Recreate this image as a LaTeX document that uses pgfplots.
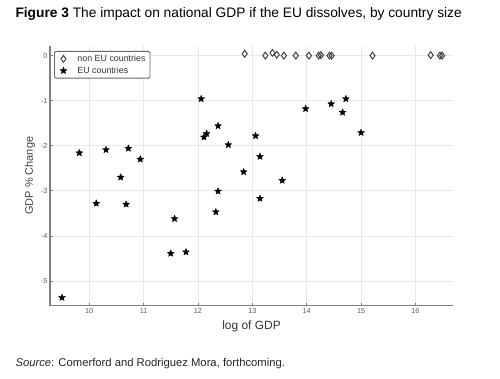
\documentclass[border=0pt]{standalone}
\usepackage{pgfplots}
\pgfplotsset{compat=1.18}
\usepackage{fontspec}
\setmainfont{Liberation Sans}
\pgfdeclareplotmark{fstar}{%
  \pgfpathmoveto{\pgfpointpolar{90}{\pgfplotmarksize}}%
  \pgfpathlineto{\pgfpointpolar{126}{0.45\pgfplotmarksize}}%
  \pgfpathlineto{\pgfpointpolar{162}{\pgfplotmarksize}}%
  \pgfpathlineto{\pgfpointpolar{198}{0.45\pgfplotmarksize}}%
  \pgfpathlineto{\pgfpointpolar{234}{\pgfplotmarksize}}%
  \pgfpathlineto{\pgfpointpolar{270}{0.45\pgfplotmarksize}}%
  \pgfpathlineto{\pgfpointpolar{306}{\pgfplotmarksize}}%
  \pgfpathlineto{\pgfpointpolar{342}{0.45\pgfplotmarksize}}%
  \pgfpathlineto{\pgfpointpolar{18}{\pgfplotmarksize}}%
  \pgfpathlineto{\pgfpointpolar{54}{0.45\pgfplotmarksize}}%
  \pgfpathclose
  \pgfusepathqfillstroke}
\definecolor{spine}{RGB}{128,128,128}
\definecolor{gridc}{RGB}{232,232,232}
\definecolor{tickc}{RGB}{90,90,90}
\begin{document}
\begin{tikzpicture}
\useasboundingbox (0bp,0bp) rectangle (500bp,-379bp);
\node[anchor=west,font=\fontsize{13.8}{16}\selectfont] at (12bp,-14bp) {\textbf{Figure 3} The impact on national GDP if the EU dissolves, by country size};
\node[anchor=west,font=\fontsize{11.3}{13}\selectfont,text=black!85] at (12bp,-364bp) {\textit{Source}: Comerford and Rodriguez Mora, forthcoming.};
\begin{axis}[
  at={(50bp,-305.7bp)}, anchor=south west,
  scale only axis, width=403bp, height=260bp,
  xmin=9.28, xmax=16.69, ymin=-5.55, ymax=0.22,
  axis x line*=bottom, axis y line*=left,
  axis line style={spine, line width=1.2pt, -},
  xtick={10,11,...,16}, ytick={-5,-4,...,0},
  tick align=inside, major tick length=3bp,
  tick style={spine, line width=0.6pt},
  grid=major, grid style={gridc, line width=0.6pt},
  /pgf/number format/assume math mode=true,
  ticklabel style={font=\fontsize{7.3}{8}\selectfont, text=tickc},
  yticklabel style={xshift=1bp},
  xticklabel style={yshift=1bp},
  xlabel={log of GDP}, ylabel={GDP \% Change},
  xlabel style={at={(axis description cs:0.5,0)}, anchor=north, yshift=-12bp,
    font=\fontsize{12}{14}\selectfont, text=black!80},
  ylabel style={at={(axis description cs:-0.0496,0.5)}, anchor=center,
    font=\fontsize{11}{13}\selectfont, text=black!75},
  legend image code/.code={\path[draw=none,fill=none] (0bp,0bp) rectangle (18.5bp,0.1bp); \draw[#1] plot coordinates {(6bp,0bp)};},
  legend style={at={(0.01,0.98)}, anchor=north west, draw=black!60, line width=0.9pt,
    font=\fontsize{8.9}{10.5}\selectfont, text=black!80, rounded corners=1.5bp,
    inner xsep=3bp, inner ysep=1.5bp, row sep=0bp, nodes={inner xsep=1.5bp}},
  legend cell align=left,
]
\addplot[only marks, mark=diamond, mark size=3.4bp, draw=black!75, line width=1pt,
  mark options={fill=white}] coordinates {
 (12.86,0.04) (13.24,0) (13.37,0.06) (13.45,0.02) (13.58,0) (13.80,0) (14.04,0)
 (14.22,0) (14.26,0.01) (14.42,0) (14.46,0) (15.21,0) (16.28,0.01) (16.45,0) (16.49,0)
};
\addlegendentry{non EU countries}
\addplot[only marks, mark=fstar, mark size=3.6bp, draw=black, fill=black, line width=0.3pt] coordinates {
 (9.50,-5.37) (9.82,-2.16) (10.13,-3.28) (10.31,-2.09) (10.58,-2.70) (10.68,-3.30)
 (10.72,-2.06) (10.94,-2.30) (11.50,-4.39) (11.57,-3.62) (11.78,-4.36) (12.06,-0.96)
 (12.11,-1.81) (12.16,-1.73) (12.33,-3.47) (12.37,-3.01) (12.37,-1.56) (12.56,-1.98)
 (12.84,-2.58) (13.06,-1.78) (13.14,-2.24) (13.14,-3.17) (13.55,-2.77) (13.98,-1.18)
 (14.45,-1.07) (14.66,-1.26) (14.72,-0.96) (15.00,-1.71)
};
\addlegendentry{EU countries}
\end{axis}
\end{tikzpicture}
\end{document}
